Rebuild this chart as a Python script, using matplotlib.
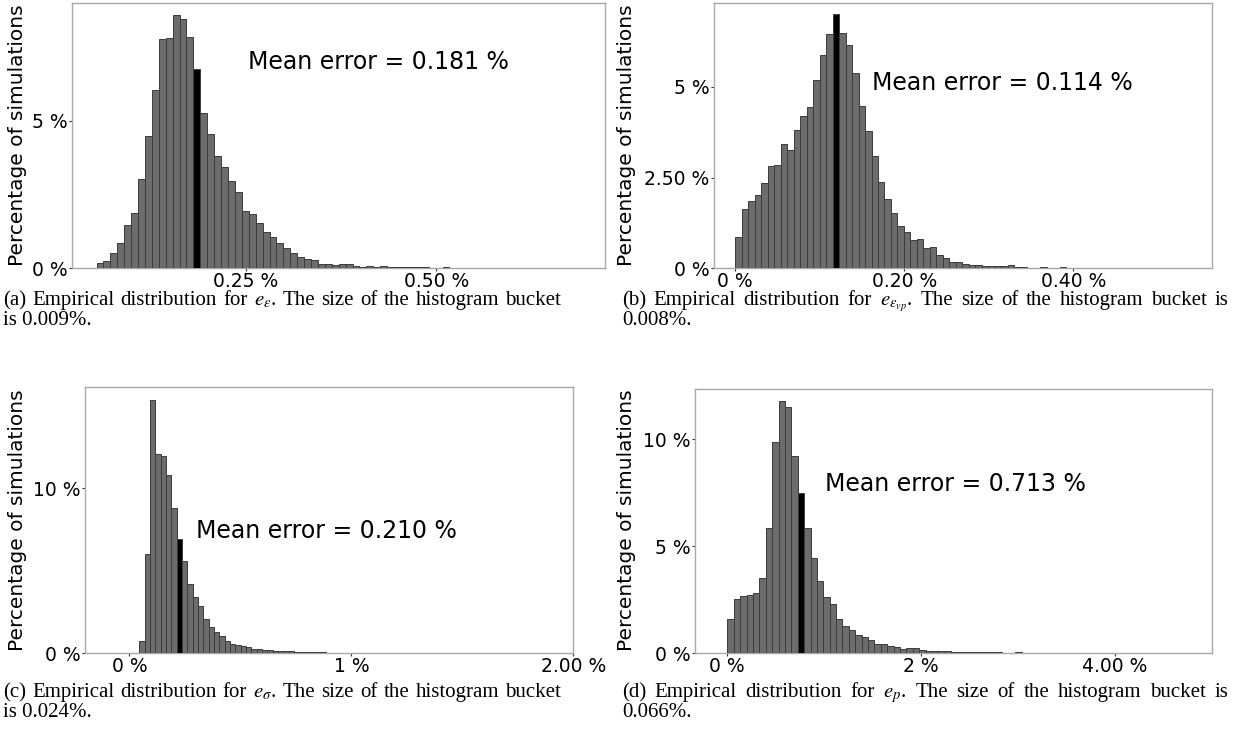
import numpy as np
import matplotlib
matplotlib.use("Agg")
import matplotlib.pyplot as plt

W, H = 1243, 742

# histogram heights (% of simulations), one value per bucket
a_heights = [0.17, 0.26, 0.51, 0.85, 1.47, 1.87, 3.04, 4.49, 6.05, 7.78, 7.81, 8.60, 8.47, 7.83,
             6.75, 5.26, 4.55, 3.82, 3.42, 2.96, 2.58, 1.95, 1.83, 1.54, 1.24, 1.05, 0.85, 0.70,
             0.52, 0.37, 0.33, 0.27, 0.16, 0.14, 0.12, 0.15, 0.14, 0.09, 0.06, 0.08, 0.06, 0.07,
             0.05, 0.04, 0.04, 0.03, 0.03, 0.03, 0.02, 0.02, 0.03, 0.02, 0.01, 0.01, 0.02, 0.01,
             0.01, 0.01, 0.02, 0.01, 0.01, 0.01, 0.0, 0.01, 0.01, 0.0, 0.01, 0.0, 0.01, 0.01]
b_heights = [0.86, 1.64, 1.86, 2.03, 2.35, 2.83, 2.85, 3.42, 3.27, 3.81, 4.19, 4.45, 5.20, 5.87,
             6.46, 7.00, 6.49, 6.15, 5.39, 4.47, 3.79, 3.09, 2.37, 1.91, 1.52, 1.16, 0.99, 0.77,
             0.81, 0.55, 0.60, 0.36, 0.28, 0.18, 0.16, 0.12, 0.10, 0.09, 0.07, 0.05, 0.05, 0.06,
             0.08, 0.03, 0.03, 0.02, 0.02, 0.03, 0.02, 0.02, 0.03, 0.01, 0.02, 0.01, 0.02, 0.02,
             0.01, 0.0, 0.01, 0.01, 0.0, 0.01, 0.01, 0.0, 0.01, 0.0, 0.0, 0.01, 0.0, 0.01]
c_heights = [0.75, 6.02, 15.35, 12.06, 11.94, 10.83, 8.79, 6.95, 5.58, 4.20, 3.39, 2.85, 2.10,
             1.62, 1.27, 1.03, 0.75, 0.59, 0.51, 0.46, 0.38, 0.28, 0.24, 0.22, 0.18, 0.16, 0.14,
             0.14, 0.12, 0.10, 0.08, 0.07, 0.06, 0.05, 0.05, 0.04, 0.04, 0.03, 0.03, 0.03, 0.02,
             0.02, 0.02, 0.02, 0.02, 0.01, 0.02, 0.01, 0.01, 0.01, 0.02, 0.01, 0.01, 0.01, 0.0,
             0.01, 0.01, 0.01, 0.0, 0.01, 0.01, 0.0, 0.01, 0.01, 0.0, 0.01, 0.0, 0.01, 0.0, 0.01,
             0.0, 0.0, 0.01, 0.0, 0.01, 0.0, 0.0, 0.01, 0.0, 0.0, 0.01]
d_heights = [1.60, 2.53, 2.67, 2.72, 2.81, 3.51, 5.87, 9.86, 11.77, 11.52, 9.22, 7.48, 5.84,
             4.44, 3.37, 2.64, 2.28, 1.58, 1.27, 1.07, 0.85, 0.76, 0.62, 0.43, 0.42, 0.36, 0.28,
             0.20, 0.23, 0.23, 0.16, 0.12, 0.11, 0.11, 0.10, 0.08, 0.08, 0.07, 0.06, 0.05, 0.05,
             0.04, 0.05, 0.03, 0.03, 0.04, 0.02, 0.03, 0.03, 0.02, 0.02, 0.03, 0.02, 0.02, 0.01,
             0.02, 0.02, 0.01, 0.01, 0.02, 0.01, 0.0, 0.02, 0.01, 0.01, 0.0, 0.01, 0.01, 0.0,
             0.01, 0.01, 0.0, 0.01, 0.0, 0.0, 0.01]

# bucket layout: (first bucket start, bucket size, index of bucket holding the mean)
a_bins = (0.0549, 0.00906, 14)
b_bins = (0.0, 0.00768, 15)
c_bins = (0.0446, 0.02406, 7)
d_bins = (0.004, 0.066, 11)

mean_errors = ["0.181", "0.114", "0.210", "0.713"]

a_xticks, a_xlabels = [0.25, 0.50], ["0.25 %", "0.50 %"]
b_xticks, b_xlabels = [0, 0.20, 0.40], ["0 %", "0.20 %", "0.40 %"]
c_xticks, c_xlabels = [0, 1, 2], ["0 %", "1 %", "2.00 %"]
d_xticks, d_xlabels = [0, 2, 4], ["0 %", "2 %", "4.00 %"]
a_yticks, a_ylabels = [0, 5], ["0 %", "5 %"]
b_yticks, b_ylabels = [0, 2.5, 5], ["0 %", "2.50 %", "5 %"]
c_yticks, c_ylabels = [0, 10], ["0 %", "10 %"]
d_yticks, d_ylabels = [0, 5, 10], ["0 %", "5 %", "10 %"]

captions = [
    ("(a) Empirical distribution for $e_{\\varepsilon}$. The size of the histogram bucket", "is 0.009%."),
    ("(b) Empirical distribution for $e_{\\varepsilon_{vp}}$. The size of the histogram bucket is", "0.008%."),
    ("(c) Empirical distribution for $e_{\\sigma}$. The size of the histogram bucket", "is 0.024%."),
    ("(d) Empirical distribution for $e_{p}$. The size of the histogram bucket is", "0.066%."),
]

plt.rcParams['font.family'] = 'DejaVu Sans'
plt.rcParams['mathtext.fontset'] = 'stix'

fig = plt.figure(figsize=(W / 100, H / 100), dpi=100, facecolor='white')
renderer = fig.canvas.get_renderer()


def px_axes(left, top, right, bottom):
    return fig.add_axes([left / W, 1 - bottom / H, (right - left) / W, (bottom - top) / H])


def draw_panel(ax, heights, bins, xlim, ylim, xticks, xlabels, yticks, ylabels):
    start, width, mean_idx = bins
    edges = start + width * np.arange(len(heights))
    colors = ['black' if i == mean_idx else '#6c6c6c' for i in range(len(heights))]
    edge_colors = ['#3c3c3c' if h > 0 else 'none' for h in heights]
    ax.bar(edges, heights, width=width, align='edge', color=colors,
           edgecolor=edge_colors, linewidth=0.7, zorder=3)
    ax.set_xlim(*xlim)
    ax.set_ylim(*ylim)
    ax.set_xticks(xticks)
    ax.set_xticklabels(xlabels)
    ax.set_yticks(yticks)
    ax.set_yticklabels(ylabels)
    ax.tick_params(axis='both', labelsize=13.5, length=2, width=0.8, color='#333333')
    ax.tick_params(axis='y', pad=1)
    ax.tick_params(axis='x', pad=1)
    for s in ax.spines.values():
        s.set_color('#a8a8a8')
        s.set_linewidth(1.0)


def justified(x0, x1, y, text, **kw):
    # spread the words of one caption line over [x0, x1] like a justified LaTeX line
    words = text.split()
    objs = [fig.text(0, 1 - y / H, w, ha='left', va='baseline', **kw) for w in words]
    widths = [o.get_window_extent(renderer).width for o in objs]
    gap = (x1 - x0 - sum(widths)) / (len(words) - 1)
    x = x0
    for o, w in zip(objs, widths):
        o.set_x(x / W)
        x += w + gap


ax_a = px_axes(72, 2.7, 604.5, 268.3)
ax_b = px_axes(713.5, 2.7, 1211.5, 268.3)
ax_c = px_axes(85, 387.3, 573.3, 653.3)
ax_d = px_axes(695, 388.7, 1211.5, 653.3)

draw_panel(ax_a, a_heights, a_bins, (0.0228, 0.720), (0, 9.01), a_xticks, a_xlabels,
           a_yticks, a_ylabels)
draw_panel(ax_b, b_heights, b_bins, (-0.0257, 0.5636), (0, 7.32), b_xticks, b_xlabels,
           b_yticks, b_ylabels)
draw_panel(ax_c, c_heights, c_bins, (-0.2, 2.0), (0, 16.12), c_xticks, c_xlabels,
           c_yticks, c_ylabels)
draw_panel(ax_d, d_heights, d_bins, (-0.33, 5.0), (0, 12.36), d_xticks, d_xlabels,
           d_yticks, d_ylabels)

# mean error annotations, left edge / vertical centre in pixels
for (x, y), m in zip([(248.5, 62), (872, 83), (195.5, 530.5), (825, 484)], mean_errors):
    fig.text(x / W, 1 - y / H, f"Mean error = {m} %", fontsize=17, ha='left', va='center')

# y labels, placed by pixel centre
for x, y in [(18, 135), (626, 135), (18, 520), (626, 520)]:
    fig.text(x / W, 1 - y / H, "Percentage of simulations", rotation=90,
             ha='center', va='center', fontsize=14.5)

# sub-figure captions
cap_pos = [(3, 561, 305), (622, 1228, 305), (3, 561, 697), (622, 1228, 697)]
for (x0, x1, y), (line1, line2) in zip(cap_pos, captions):
    justified(x0, x1, y, line1, family='Liberation Serif', fontsize=15)
    fig.text(x0 / W, 1 - (y + 20) / H, line2, family='Liberation Serif', fontsize=15,
             ha='left', va='baseline')

fig.savefig("out.png", dpi=100)
